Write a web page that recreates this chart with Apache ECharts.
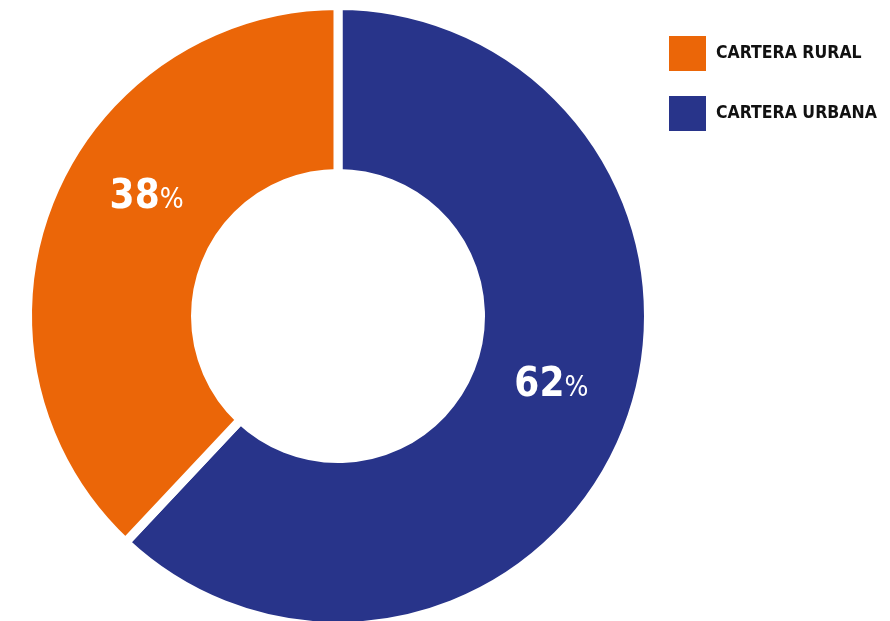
<!DOCTYPE html>
<html>
<head>
<meta charset="utf-8">
<script src="https://cdn.jsdelivr.net/npm/echarts@6/dist/echarts.min.js"></script>
<style>
html,body{margin:0;padding:0;background:#fff;}
#c{width:890px;height:621px;}
</style>
</head>
<body>
<div id="c"></div>
<script>
const categories = ['CARTERA URBANA', 'CARTERA RURAL'];
const values = [62, 38];
const colors = ['#28348A', '#EB6608'];
const legendOrder = ['CARTERA RURAL', 'CARTERA URBANA'];
const labelShift = [[0, -15], [22, -34]];

const fontFam = '"DejaVu Sans Condensed","DejaVu Sans",sans-serif';

const chart = echarts.init(document.getElementById('c'), null, {renderer: 'canvas'});
chart.setOption({
  animation: false,
  legend: {
    orient: 'vertical',
    left: 662,
    top: 29,
    itemWidth: 39,
    itemHeight: 37,
    itemGap: 21,
    icon: 'rect',
    data: legendOrder,
    textStyle: {
      fontFamily: fontFam,
      fontWeight: 'bold condensed',
      fontSize: 17.5,
      color: '#111',
      padding: [0, 0, 0, 4]
    }
  },
  series: [{
    type: 'pie',
    center: [338, 316],
    radius: [142.5, 310.5],
    startAngle: 90,
    clockwise: true,
    silent: true,
    itemStyle: {borderColor: '#fff', borderWidth: 9},
    label: {
      show: true,
      position: 'inside',
      formatter: p => '{n|' + p.value + '}{p|%}',
      rich: {
        n: {fontFamily: fontFam, fontWeight: 'bold condensed', fontSize: 40, color: '#fff'},
        p: {fontFamily: fontFam, fontWeight: 'condensed', fontSize: 28, color: '#fff', padding: [6, 0, 0, 0]}
      }
    },
    labelLine: {show: false},
    labelLayout: p => ({dx: labelShift[p.dataIndex][0], dy: labelShift[p.dataIndex][1]}),
    data: categories.map((c, i) => ({name: c, value: values[i], itemStyle: {color: colors[i]}}))
  }]
});
</script>
</body>
</html>
